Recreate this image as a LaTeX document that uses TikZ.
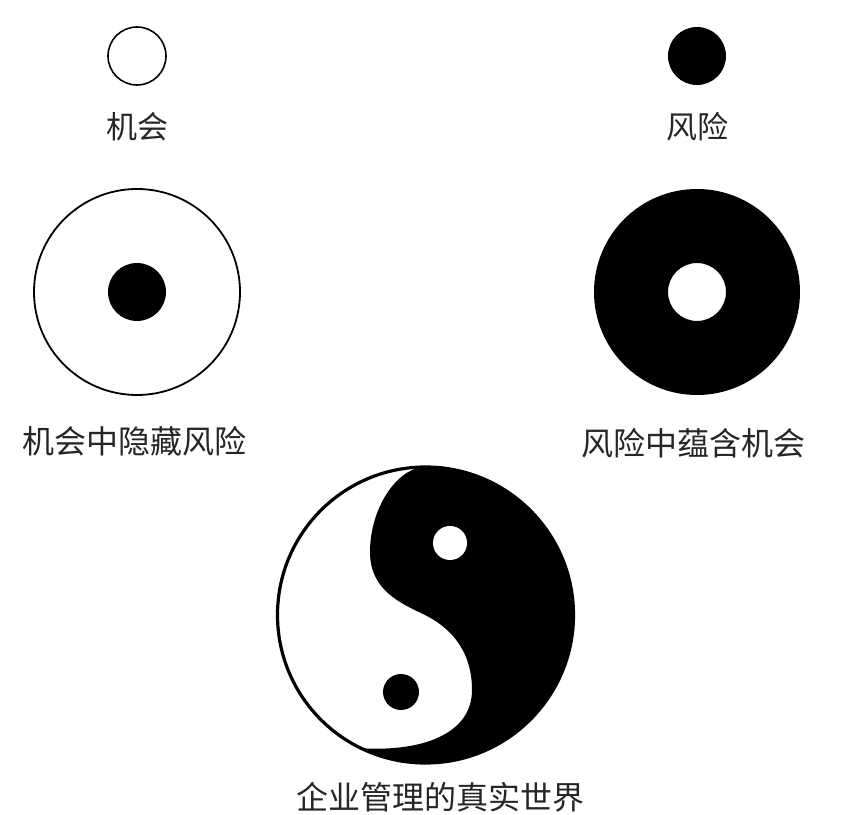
\documentclass[tikz,border=0pt]{standalone}
\usepackage{fontspec}
\newfontfamily\cjk{Noto Sans CJK SC}
\begin{document}
\begin{tikzpicture}[x=1pt,y=1pt,
  lbl/.style={font=\cjk\fontsize{31}{31}\selectfont, inner sep=0pt, text=black!85},
  lblbig/.style={font=\cjk\fontsize{32}{32}\selectfont, inner sep=0pt, text=black!85}]
\useasboundingbox[fill=white] (0,0) rectangle (854,814);
% top row
\draw[line width=1.6] (137,758) circle[radius=29];
\fill (697,758) circle[radius=29];
\node[lbl] (jihui) at (137,687) {机会};
\node[lbl] (fengxian) at (697,687) {风险};
% middle row
\draw[line width=1.8] (137,522) circle[radius=103];
\fill (137,522) circle[radius=29];
\fill[even odd rule] (697,522) circle[radius=103] (697,522) circle[radius=29];
\node[lblbig] (left) at (135,373) {机会中隐藏风险};
\node[lblbig] (right) at (693,371) {风险中蕴含机会};
% yin-yang
\coordinate (yc) at (425.5,199);
\fill (422.9,347)
   .. controls (395,344) and (370,304) .. (370,262)
   .. controls (370,224) and (400,211) .. (425,199)
   .. controls (455,184) and (472,159) .. (472,124)
   .. controls (472,79) and (420,62) .. (360.9,65.8)
   arc[start angle=244.1, end angle=451, radius=148] -- cycle;
\fill[white] (450,271) circle[radius=17];
\fill (401,122) circle[radius=18];
\draw[line width=3.2] (yc) circle[radius=148];
\node[lblbig] (world) at (440,17) {企业管理的真实世界};
\end{tikzpicture}
\end{document}
